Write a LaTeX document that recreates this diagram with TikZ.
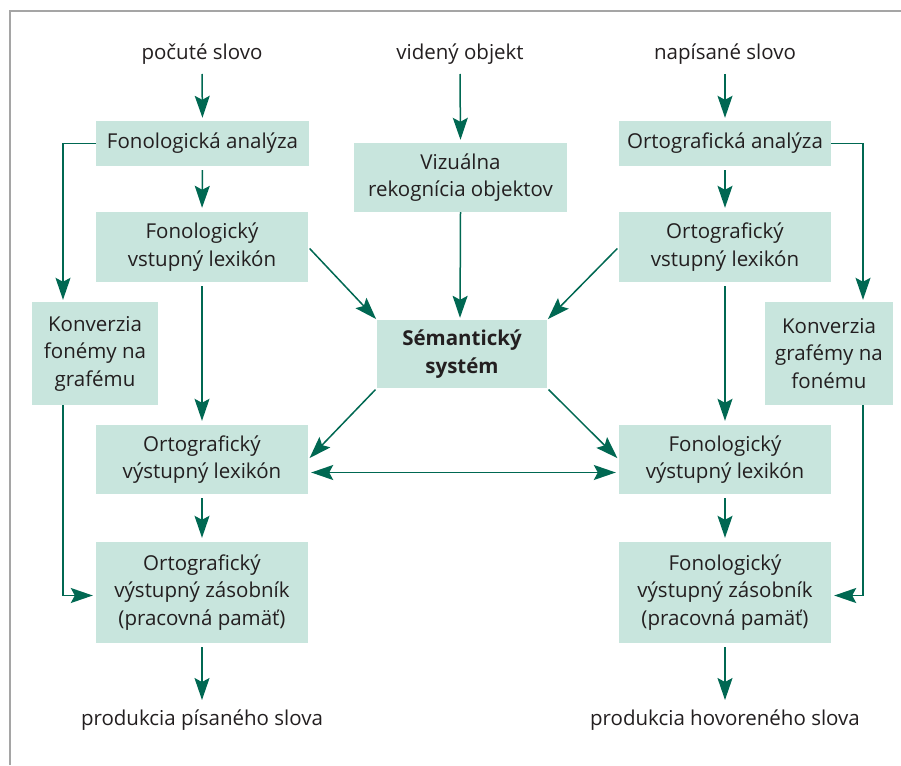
\documentclass[tikz,border=0pt]{standalone}
\usepackage{fontspec}
\setmainfont{Open Sans}
\usetikzlibrary{arrows.meta}
\definecolor{boxfill}{RGB}{200,229,221}
\definecolor{arrcol}{RGB}{0,104,82}
\definecolor{txtcol}{RGB}{35,31,32}
\definecolor{framecol}{RGB}{165,165,165}
\tikzset{
  box/.style={rectangle, fill=boxfill, inner sep=0pt, align=center, text=txtcol},
  lbl/.style={inner sep=0pt, text=txtcol, anchor=base},
  arr/.style={draw=arrcol, line width=1.5pt, -{Stealth[length=22pt,width=15pt,inset=4pt]}},
  arrb/.style={draw=arrcol, line width=1.5pt, {Stealth[length=22pt,width=15pt,inset=4pt]}-{Stealth[length=22pt,width=15pt,inset=4pt]}},
}
\begin{document}
\begin{tikzpicture}[x=1pt,y=-1pt,font=\fontsize{20.5}{27.5}\selectfont]
\useasboundingbox (0,0) rectangle (901,765);
\draw[framecol, line width=1.5pt] (10,765) -- (10,11) -- (901,11);

% labels
\node[lbl] (ps) at (202,60) {počuté slovo};
\node[lbl] (vo) at (460,60) {videný objekt};
\node[lbl] (ns) at (725,60) {napísané slovo};
\node[lbl] (pp) at (202,725) {produkcia písaného slova};
\node[lbl] (ph) at (725,725) {produkcia hovoreného slova};

% left column
\node[box, minimum width=213pt, minimum height=45pt] (fa) at (202.5,143.5) {Fonologická analýza};
\node[box, minimum width=212pt, minimum height=70pt] (fvl) at (202,247) {Fonologický\\vstupný lexikón};
\node[box, minimum width=126pt, minimum height=103pt] (kfg) at (95,353.5) {Konverzia\\fonémy na\\grafému};
\node[box, minimum width=212pt, minimum height=69pt] (ovl) at (202,459.5) {Ortografický\\výstupný lexikón};
\node[box, minimum width=212pt, minimum height=101pt] (ovz) at (202,592.5) {Ortografický\\výstupný zásobník\\(pracovná pamäť)};

% middle
\node[box, minimum width=213pt, minimum height=69pt] (vro) at (460.5,177.5) {Vizuálna\\rekognícia objektov};
\node[box, minimum width=170pt, minimum height=68pt, font=\fontsize{20.5}{27.5}\selectfont\bfseries] (sem) at (462,354) {Sémantický\\systém};

% right column
\node[box, minimum width=212pt, minimum height=45pt] (oa) at (725,143.5) {Ortografická analýza};
\node[box, minimum width=212pt, minimum height=70pt] (ovi) at (725,247) {Ortografický\\vstupný lexikón};
\node[box, minimum width=128pt, minimum height=103pt] (kgf) at (829,353.5) {Konverzia\\grafémy na\\fonému};
\node[box, minimum width=212pt, minimum height=69pt] (fvo) at (725,459.5) {Fonologický\\výstupný lexikón};
\node[box, minimum width=212pt, minimum height=101pt] (fvz) at (725,592.5) {Fonologický\\výstupný zásobník\\(pracovná pamäť)};

% vertical arrows
\draw[arr, shorten >=3pt] ([yshift=-14pt]ps.base) -- (fa.north);
\draw[arr, shorten <=4pt, shorten >=4pt] (fa.south) -- (fvl.north);
\draw[arr, shorten <=4pt, shorten >=4pt] (fvl.south) -- (ovl.north);
\draw[arr, shorten <=4pt, shorten >=4pt] (ovl.south) -- (ovz.north);
\draw[arr, shorten <=4pt] (ovz.south) -- ([yshift=25pt]pp.base);

\draw[arr, shorten >=3pt] ([yshift=-14pt]vo.base) -- (vro.north);
\draw[arr, shorten >=2pt] (vro.south) -- ([xshift=-2pt]sem.north);

\draw[arr, shorten >=3pt] ([yshift=-14pt]ns.base) -- (oa.north);
\draw[arr, shorten <=4pt, shorten >=4pt] (oa.south) -- (ovi.north);
\draw[arr, shorten <=4pt, shorten >=4pt] (ovi.south) -- (fvo.north);
\draw[arr, shorten <=4pt, shorten >=4pt] (fvo.south) -- (fvz.north);
\draw[arr, shorten <=4pt] (fvz.south) -- ([yshift=25pt]ph.base);

% elbows
\draw[arr, shorten >=2pt] (fa.west) -| ([xshift=-32pt]kfg.north);
\draw[arr, shorten >=3pt] ([xshift=-32pt]kfg.south) |- ([yshift=-3pt]ovz.west);
\draw[arr, shorten >=2pt] (oa.east) -| ([xshift=34pt]kgf.north);
\draw[arr, shorten >=3pt] ([xshift=34pt]kgf.south) |- ([yshift=-3pt]fvz.east);

% diagonals
\draw[arr, shorten <=2pt, shorten >=1pt] (fvl.east) -- (sem.north west);
\draw[arr, shorten <=2pt, shorten >=1pt] (ovi.west) -- (sem.north east);
\draw[arr, shorten <=2pt, shorten >=2pt] (sem.south west) -- (ovl.east);
\draw[arr, shorten <=2pt, shorten >=2pt] (sem.south east) -- (fvo.west);
\draw[arrb, shorten <=3pt, shorten >=3pt] ([yshift=-13pt]ovl.east) -- ([yshift=-13pt]fvo.west);
\end{tikzpicture}
\end{document}
